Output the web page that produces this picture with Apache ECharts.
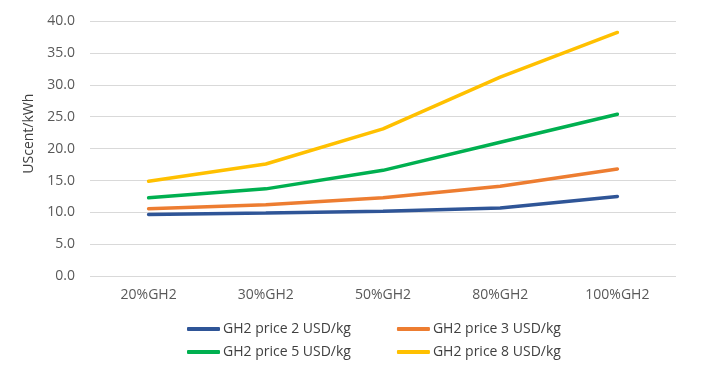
<!DOCTYPE html>
<html><head><meta charset="utf-8">
<script src="https://cdn.jsdelivr.net/npm/echarts@6/dist/echarts.min.js"></script>
<style>html,body{margin:0;padding:0;background:#fff}#c{width:718px;height:375px}</style>
</head><body><div id="c"></div>
<script>
const categories = ['20%GH2','30%GH2','50%GH2','80%GH2','100%GH2'];
const seriesNames = ['GH2 price 2 USD/kg','GH2 price 3 USD/kg','GH2 price 5 USD/kg','GH2 price 8 USD/kg'];
const price2 = [9.7, 9.9, 10.2, 10.7, 12.5];
const price3 = [10.6, 11.2, 12.3, 14.1, 16.8];
const price5 = [12.3, 13.7, 16.6, 21.0, 25.4];
const price8 = [14.9, 17.6, 23.1, 31.2, 38.2];
const colors = ['#2F5597','#ED7D31','#00B050','#FFC000'];
const yTicks = {min:0, max:40, interval:5};
const FONT = 'Open Sans';
const chart = echarts.init(document.getElementById('c'), null, {renderer:'canvas'});
const legendBase = {
  itemWidth: 33, itemHeight: 4, itemGap: 46,
  icon: 'roundRect',
  textStyle: {fontFamily: FONT, fontSize: 14, color: '#404040', padding:[0,0,0,-2]},
  left: 182
};
chart.setOption({
  animation: false,
  color: colors,
  grid: {left: 90, right: 42, top: 21, bottom: 98.7},
  legend: [
    Object.assign({}, legendBase, {top: 317, data: [seriesNames[0], seriesNames[1]]}),
    Object.assign({}, legendBase, {top: 340, data: [seriesNames[2], seriesNames[3]]})
  ],
  xAxis: {
    type: 'category', data: categories, boundaryGap: true,
    axisLine: {show: false}, axisTick: {show: false},
    axisLabel: {fontFamily: FONT, fontSize: 14, color: '#595959', margin: 12}
  },
  yAxis: {
    type: 'value', min: yTicks.min, max: yTicks.max, interval: yTicks.interval,
    name: 'UScent/kWh', nameLocation: 'middle', nameGap: 52,
    nameTextStyle: {fontFamily: FONT, fontSize: 14, color: '#404040', padding: [0,0,0,30]},
    axisLine: {show: false}, axisTick: {show: false},
    axisLabel: {fontFamily: FONT, fontSize: 14, color: '#595959', margin: 15, formatter: v => v.toFixed(1)},
    splitLine: {lineStyle: {color: '#d9d9d9', width: 1}}
  },
  series: [price2, price3, price5, price8].map((d, i) => ({
    name: seriesNames[i], type: 'line', data: d, symbol: 'none',
    lineStyle: {width: 3.5, color: colors[i], cap: 'round'}
  }))
});
</script></body></html>
